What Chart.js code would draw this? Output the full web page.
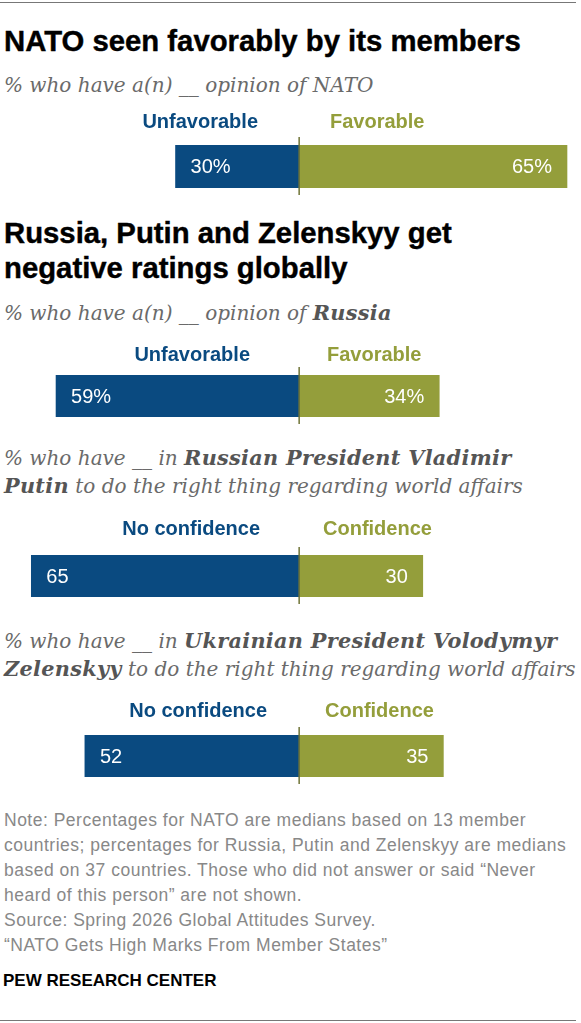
<!DOCTYPE html>
<html>
<head>
<meta charset="utf-8">
<script src="https://cdn.jsdelivr.net/npm/chart.js@4.4.1/dist/chart.umd.min.js"></script>
<style>
  body { margin: 0; background: #fff; }
  #page { position: relative; width: 581px; height: 1023px; overflow: hidden; }
  .rule { position: absolute; left: 0; width: 576px; height: 1px; background: #777; }
  .title { position: absolute; left: 4px; font: bold 29.3px "Liberation Sans", Arial, sans-serif; line-height: 35px; color: #000; -webkit-text-stroke: 0.4px #000; white-space: nowrap; }
  .sub { position: absolute; left: 4px; font: italic 20px "DejaVu Serif", Georgia, serif; line-height: 28px; color: #6a6a6a; white-space: nowrap; }
  .sub b { color: #555; font-size: 20.8px; letter-spacing: 0.3px; }
  .note { position: absolute; left: 4px; font: 17.5px "Liberation Sans", Arial, sans-serif; letter-spacing: 0.5px; line-height: 25px; color: #888; white-space: nowrap; }
  .pew { position: absolute; left: 3px; font: bold 17px "Liberation Sans", Arial, sans-serif; line-height: 20px; color: #000; }
  canvas { position: absolute; left: 0; }
</style>
</head>
<body>
<div id="page">
  <div class="rule" style="top:2px"></div>
  <div class="title" style="top:23px">NATO seen favorably by its members</div>
  <div class="sub" style="top:71px">% who have a(n) __ opinion of NATO</div>

  <div class="title" style="top:215px">Russia, Putin and Zelenskyy get<br>negative ratings globally</div>
  <div class="sub" style="top:299px">% who have a(n) __ opinion of <b>Russia</b></div>
  <div class="sub" style="top:444px">% who have __ in <b>Russian President Vladimir<br>Putin</b> to do the right thing regarding world affairs</div>
  <div class="sub" style="top:627px">% who have __ in <b>Ukrainian President Volodymyr<br>Zelenskyy</b> to do the right thing regarding world affairs</div>

  <div class="note" style="top:808px">Note: Percentages for NATO are medians based on 13 member<br>countries; percentages for Russia, Putin and Zelenskyy are medians<br>based on 37 countries. Those who did not answer or said “Never<br>heard of this person” are not shown.<br>Source: Spring 2026 Global Attitudes Survey.<br>“NATO Gets High Marks From Member States”</div>
  <div class="pew" style="top:971px">PEW RESEARCH CENTER</div>
  <div class="rule" style="top:1020px"></div>

  <canvas id="c0" width="581" height="95"></canvas>
  <canvas id="c1" width="581" height="95"></canvas>
  <canvas id="c2" width="581" height="95"></canvas>
  <canvas id="c3" width="581" height="95"></canvas>
</div>
<script>
// data
const groups = ['NATO', 'Russia', 'Putin', 'Zelenskyy'];
const negLabels = ['Unfavorable', 'Unfavorable', 'No confidence', 'No confidence'];
const posLabels = ['Favorable', 'Favorable', 'Confidence', 'Confidence'];
const negValues = [30, 59, 65, 52];
const posValues = [65, 34, 30, 35];
const suffixes = ['%', '%', '', ''];

const BLUE = '#0a4a80';
const OLIVE = '#949e3b';

// where each chart sits on the page
const layout = [
  { barTop: 145, barBottom: 188, legendY: 128, negRight: 258, posLeft: 330 },
  { barTop: 375, barBottom: 417, legendY: 361, negRight: 250, posLeft: 327 },
  { barTop: 555, barBottom: 597, legendY: 535, negRight: 260, posLeft: 323 },
  { barTop: 735, barBottom: 777, legendY: 717, negRight: 267, posLeft: 325 }
];

const divergingLabels = {
  id: 'divergingLabels',
  afterDatasetsDraw(chart, args, opts) {
    const ctx = chart.ctx;
    const x = chart.scales.x;
    const area = chart.chartArea;
    const i = opts.index;
    const x0 = x.getPixelForValue(0);
    const midY = (area.top + area.bottom) / 2;
    ctx.save();
    // centre line
    ctx.strokeStyle = '#6f7436';
    ctx.lineWidth = 1.5;
    ctx.beginPath();
    ctx.moveTo(x0, area.top - 8);
    ctx.lineTo(x0, area.bottom + 7);
    ctx.stroke();
    // values inside bars
    ctx.fillStyle = '#fff';
    ctx.font = '20px "Liberation Sans", Arial, sans-serif';
    ctx.textBaseline = 'middle';
    ctx.textAlign = 'left';
    ctx.fillText(negValues[i] + suffixes[i], x.getPixelForValue(-negValues[i]) + 15, midY + 1);
    ctx.textAlign = 'right';
    ctx.fillText(posValues[i] + suffixes[i], x.getPixelForValue(posValues[i]) - 15, midY + 1);
    // column headers
    const off = chart.canvas.offsetTop;
    ctx.font = 'bold 20px "Liberation Sans", Arial, sans-serif';
    ctx.textBaseline = 'alphabetic';
    ctx.fillStyle = BLUE;
    ctx.textAlign = 'right';
    ctx.fillText(negLabels[i], opts.negRight, opts.legendY - off);
    ctx.fillStyle = OLIVE;
    ctx.textAlign = 'left';
    ctx.fillText(posLabels[i], opts.posLeft, opts.legendY - off);
    ctx.restore();
  }
};

groups.forEach(function (g, i) {
  const L = layout[i];
  const canvas = document.getElementById('c' + i);
  const top = L.barTop - 40;
  canvas.style.top = top + 'px';
  new Chart(canvas.getContext('2d'), {
    type: 'bar',
    data: {
      labels: [g],
      datasets: [
        { label: negLabels[i], data: [-negValues[i]], backgroundColor: BLUE },
        { label: posLabels[i], data: [posValues[i]], backgroundColor: OLIVE }
      ]
    },
    options: {
      indexAxis: 'y',
      responsive: false,
      animation: false,
      events: [],
      layout: { padding: { top: 40, bottom: 95 - 40 - (L.barBottom - L.barTop), left: 0, right: 0 } },
      datasets: { bar: { barPercentage: 1, categoryPercentage: 1 } },
      scales: {
        x: { stacked: true, min: -72.6, max: 68.4, display: false },
        y: { stacked: true, display: false }
      },
      plugins: {
        legend: { display: false },
        tooltip: { enabled: false },
        divergingLabels: Object.assign({ index: i }, L)
      }
    },
    plugins: [divergingLabels]
  });
});
</script>
</body>
</html>
